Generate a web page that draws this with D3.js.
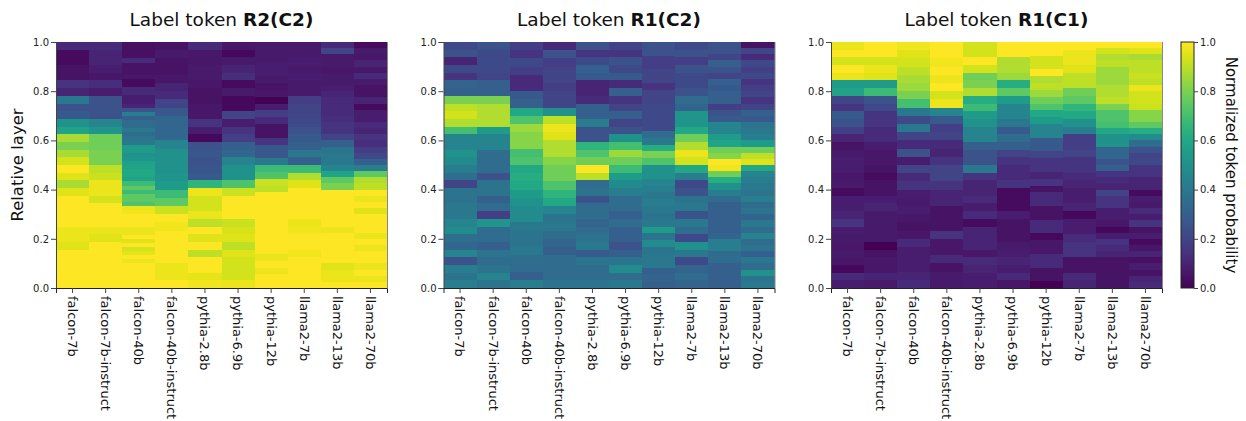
<!DOCTYPE html>
<html>
<head>
<meta charset="utf-8">
<script src="https://cdn.jsdelivr.net/npm/d3@7"></script>
<style>
  body { margin: 0; background: #fff; }
  svg { font-family: "DejaVu Sans", Verdana, sans-serif; }
</style>
</head>
<body>
<div class="chart"></div>
<script>
// models along the x axis of every panel
var models = ["falcon-7b", "falcon-7b-instruct", "falcon-40b", "falcon-40b-instruct",
  "pythia-2.8b", "pythia-6.9b", "pythia-12b", "llama2-7b", "llama2-13b", "llama2-70b"];

var yTicks = [0, 0.2, 0.4, 0.6, 0.8, 1.0];
var colorTicks = [0, 0.2, 0.4, 0.6, 0.8, 1.0];

var titlePlain = ["Label token ", "Label token ", "Label token "];
var titleBold = ["R2(C2)", "R1(C2)", "R1(C1)"];

// normalized token probability per model, listed from the last layer (top) down to the first layer
var probR2C2 = [
  [0.12,0.03,0.03,0.05,0.05,0.15,0.1,0.4,0.25,0.28,0.5,0.58,0.87,0.8,0.87,0.93,1,0.95,0.87,0.95,1,1,1,1,0.97,0.97,0.95,1,1,1,1,1],
  [0.12,0.1,0.1,0.08,0.06,0.13,0.08,0.25,0.25,0.25,0.45,0.52,0.78,0.78,0.8,0.8,0.9,0.92,0.97,0.97,0.93,1,1,1,0.97,0.95,1,1,1,1,1,1],
  [0.04,0.04,0.04,0.04,0.12,0.05,0.05,0.05,0.06,0.03,0.03,0.12,0.12,0.08,0.08,0.1,0.25,0.42,0.3,0.35,0.35,0.4,0.35,0.38,0.4,0.55,0.55,0.5,0.52,0.57,
   0.58,0.6,0.6,0.58,0.68,0.75,0.68,0.75,0.75,0.72,0.97,0.98,1,1,1,0.97,0.97,1,0.95,1,0.93,0.96,1,0.97,1,1,1,1,1,1],
  [0.05,0.07,0.05,0.05,0.06,0.1,0.12,0.2,0.27,0.33,0.33,0.33,0.45,0.5,0.5,0.5,0.52,0.55,0.68,0.75,0.92,1,0.98,1,1,1,1,0.97,0.97,1],
  [0.12,0.06,0.06,0.07,0.07,0.06,0.05,0.05,0.06,0.06,0.15,0.08,0.02,0.25,0.27,0.25,0.26,0.28,0.65,0.97,0.93,0.93,0.97,0.9,1,0.95,1,0.9,1,1,0.96,0.98],
  [0.06,0.02,0.07,0.1,0.13,0.03,0.07,0.02,0.02,0.2,0.08,0.15,0.18,0.3,0.33,0.45,0.5,0.5,0.72,0.92,1,1,1,0.92,0.94,0.95,0.9,0.95,0.93,0.93,0.93,0.97],
  [0.07,0.07,0.07,0.08,0.08,0.07,0.05,0.06,0.0,0.08,0.18,0.12,0.05,0.05,0.15,0.27,0.27,0.4,0.68,0.72,0.92,0.9,1,1,1,1,1,1,1,1,1,0.97,1,0.97,1,1],
  [0.07,0.07,0.08,0.07,0.08,0.07,0.07,0.18,0.2,0.2,0.22,0.25,0.28,0.3,0.4,0.3,0.68,0.88,0.95,1,1,1,1,0.97,0.98,1,1,0.98,1,1,1,1],
  [0.12,0.2,0.07,0.07,0.06,0.07,0.07,0.08,0.1,0.12,0.12,0.12,0.13,0.15,0.15,0.2,0.3,0.38,0.4,0.4,0.45,0.58,0.75,0.8,1,1,1,1,1,1,0.97,1,1,1,1,1,0.95,0.97,0.97,1],
  [0.03,0.07,0.06,0.1,0.06,0.12,0.07,0.05,0.05,0.1,0.03,0.08,0.08,0.12,0.1,0.15,0.13,0.18,0.22,0.3,0.42,0.75,0.88,0.9,1,0.97,1,0.95,1,1,1,0.97,1,0.97,1,1,0.97,1,0.97,1]
];

var probR1C2 = [
  [0.22,0.25,0.1,0.22,0.15,0.32,0.3,0.8,0.9,0.93,0.88,0.7,0.45,0.45,0.5,0.48,0.42,0.36,0.2,0.38,0.38,0.4,0.4,0.45,0.48,0.36,0.33,0.45,0.25,0.42,0.38,0.42],
  [0.25,0.22,0.22,0.22,0.2,0.3,0.3,0.8,0.88,0.88,0.88,0.55,0.45,0.45,0.35,0.35,0.35,0.25,0.38,0.38,0.3,0.35,0.18,0.52,0.35,0.35,0.3,0.38,0.35,0.38,0.45,0.38],
  [0.18,0.15,0.22,0.18,0.12,0.12,0.28,0.3,0.6,0.72,0.85,0.82,0.82,0.7,0.72,0.6,0.62,0.6,0.55,0.5,0.48,0.48,0.4,0.38,0.38,0.4,0.36,0.35,0.3,0.42],
  [0.12,0.25,0.18,0.2,0.2,0.18,0.2,0.2,0.5,0.9,0.97,0.95,0.88,0.88,0.82,0.78,0.78,0.72,0.65,0.6,0.45,0.38,0.4,0.35,0.32,0.3,0.35,0.35,0.35,0.38],
  [0.25,0.15,0.22,0.3,0.28,0.1,0.1,0.12,0.3,0.3,0.42,0.25,0.25,0.65,0.72,0.78,1,0.9,0.35,0.38,0.25,0.35,0.35,0.32,0.35,0.38,0.4,0.28,0.38,0.35,0.35,0.38],
  [0.2,0.15,0.25,0.22,0.28,0.12,0.3,0.15,0.2,0.3,0.2,0.25,0.5,0.7,0.85,0.78,0.68,0.55,0.48,0.42,0.35,0.35,0.3,0.35,0.3,0.3,0.25,0.3,0.38,0.48,0.35,0.4],
  [0.25,0.25,0.18,0.18,0.2,0.2,0.15,0.2,0.2,0.22,0.22,0.22,0.22,0.35,0.4,0.62,0.8,0.72,0.5,0.5,0.45,0.42,0.4,0.42,0.4,0.38,0.4,0.55,0.38,0.48,0.38,0.4,0.4,0.3,0.32,0.3],
  [0.22,0.25,0.18,0.25,0.22,0.22,0.25,0.35,0.32,0.52,0.52,0.6,0.78,0.88,0.97,0.93,0.6,0.42,0.22,0.25,0.38,0.4,0.25,0.4,0.35,0.22,0.5,0.4,0.22,0.32,0.35,0.32],
  [0.25,0.25,0.2,0.3,0.25,0.2,0.3,0.28,0.3,0.3,0.18,0.25,0.28,0.45,0.45,0.55,0.58,0.78,0.82,1,0.98,0.78,0.62,0.5,0.42,0.35,0.3,0.3,0.3,0.3,0.3,0.32,0.42,0.42,0.35,0.35,0.3,0.3,0.3,0.3],
  [0.05,0.2,0.12,0.22,0.18,0.22,0.15,0.18,0.2,0.15,0.2,0.3,0.28,0.38,0.4,0.42,0.55,0.78,0.9,0.95,0.6,0.45,0.42,0.4,0.38,0.42,0.35,0.38,0.32,0.4,0.35,0.45,0.35,0.38,0.3,0.4,0.35,0.5,0.38,0.4]
];

var probR1C1 = [
  [0.97,1,0.93,1,0.97,0.55,0.58,0.2,0.15,0.28,0.25,0.18,0.1,0.05,0.07,0.08,0.08,0.06,0.07,0.03,0.08,0.08,0.1,0.15,0.08,0.07,0.06,0.07,0.06,0.02,0.12,0.08],
  [1,1,0.93,0.97,0.95,0.55,0.68,0.25,0.22,0.15,0.15,0.12,0.12,0.08,0.06,0.06,0.05,0.03,0.05,0.05,0.08,0.1,0.07,0.07,0.07,0.07,0.0,0.05,0.06,0.06,0.1,0.07],
  [0.98,0.95,0.93,0.9,0.87,0.85,0.8,0.7,0.4,0.22,0.4,0.2,0.12,0.25,0.08,0.2,0.12,0.15,0.08,0.07,0.08,0.06,0.05,0.06,0.12,0.08,0.08,0.08,0.1,0.12],
  [1,1,0.98,1,0.97,1,0.93,0.97,0.45,0.28,0.18,0.2,0.12,0.1,0.15,0.2,0.2,0.15,0.1,0.1,0.05,0.05,0.05,0.15,0.06,0.06,0.12,0.05,0.07,0.07],
  [0.93,0.93,1,0.93,0.78,0.8,0.88,0.62,0.68,0.55,0.5,0.45,0.45,0.3,0.25,0.25,0.4,0.15,0.1,0.1,0.12,0.08,0.12,0.03,0.1,0.1,0.1,0.06,0.12,0.1,0.08,0.08],
  [1,1,0.88,0.88,0.85,0.62,0.75,0.55,0.45,0.45,0.4,0.28,0.35,0.3,0.2,0.15,0.12,0.12,0.15,0.03,0.03,0.03,0.08,0.05,0.05,0.05,0.07,0.08,0.1,0.08,0.12,0.06],
  [1,1,0.93,0.93,1,0.88,0.9,0.85,0.78,0.72,0.6,0.55,0.45,0.45,0.28,0.28,0.2,0.15,0.15,0.1,0.15,0.05,0.12,0.12,0.05,0.05,0.12,0.12,0.02,0.06,0.06,0.12,0.12,0.05,0.05,0.0],
  [1,0.97,0.97,0.95,0.9,0.9,0.78,0.75,0.65,0.6,0.5,0.42,0.18,0.18,0.2,0.15,0.15,0.12,0.1,0.08,0.08,0.1,0.02,0.08,0.08,0.12,0.15,0.15,0.05,0.05,0.12,0.1],
  [1,0.93,0.88,0.9,0.85,0.85,0.85,0.88,0.88,0.9,0.8,0.72,0.72,0.7,0.6,0.5,0.5,0.33,0.33,0.25,0.3,0.15,0.12,0.1,0.2,0.15,0.15,0.08,0.08,0.06,0.02,0.08,0.15,0.12,0.1,0.05,0.05,0.05,0.05,0.05],
  [1,0.95,0.87,0.9,0.9,0.92,0.9,0.97,0.93,0.93,0.92,0.82,0.82,0.75,0.62,0.48,0.35,0.25,0.2,0.22,0.15,0.15,0.1,0.1,0.03,0.08,0.07,0.12,0.08,0.15,0.05,0.08,0.03,0.06,0.1,0.04,0.08,0.05,0.1,0.12]
];

var panels = [probR2C2, probR1C2, probR1C1];

var svgWidth = 1246, svgHeight = 421;
var margin = { top: 42, left: 56 };
var plotW = 331, plotH = 246, panelStep = 387.5;

var svg = d3.select(".chart").append("svg")
  .attr("width", svgWidth)
  .attr("height", svgHeight);

var color = d3.scaleSequential(d3.interpolateViridis).domain([0, 1]);

var x = d3.scaleBand().domain(models).range([0, plotW]);
var y = d3.scaleLinear().domain([0, 1]).range([plotH, 0]);

panels.forEach(function (panel, p) {
  var g = svg.append("g")
    .attr("transform", `translate(${margin.left + p * panelStep}, ${margin.top})`);

  // flatten into one cell per (model, layer)
  var cells = [];
  panel.forEach(function (vals, j) {
    var n = vals.length;
    vals.forEach(function (v, k) {
      cells.push({ model: models[j], hi: 1 - k / n, lo: 1 - (k + 1) / n, v: v });
    });
  });

  g.append("g").selectAll("rect")
    .data(cells)
    .enter()
    .append("rect")
    .attr("x", d => x(d.model))
    .attr("width", x.bandwidth())
    .attr("y", d => y(d.hi))
    .attr("height", d => y(d.lo) - y(d.hi))
    .attr("fill", d => color(d.v))
    .attr("shape-rendering", "crispEdges");

  // thin right border
  g.append("line")
    .attr("x1", plotW + 0.5).attr("x2", plotW + 0.5)
    .attr("y1", 0).attr("y2", plotH)
    .attr("stroke", "#888");

  var yAxis = g.append("g")
    .call(d3.axisLeft(y).tickValues(yTicks).tickFormat(d3.format(".1f")).tickSize(5).tickPadding(2));
  yAxis.selectAll("text").attr("font-size", 10).attr("fill", "#222").attr("font-family", "DejaVu Sans");
  yAxis.selectAll("line,path").attr("stroke", "#444");

  var xAxis = g.append("g")
    .attr("transform", `translate(0, ${plotH})`)
    .call(d3.axisBottom(x).tickSize(5).tickPadding(3));
  xAxis.select(".domain").attr("stroke", "#222");
  xAxis.selectAll("line").attr("stroke", "#444");
  xAxis.selectAll("text")
    .attr("font-size", 13)
    .attr("fill", "#111")
    .attr("font-family", "DejaVu Sans")
    .attr("transform", "rotate(90)")
    .attr("text-anchor", "start")
    .attr("dy", "0.35em")
    .attr("x", 8)
    .attr("y", 0);

  // title
  var title = g.append("text")
    .attr("x", plotW / 2)
    .attr("y", -16)
    .attr("text-anchor", "middle")
    .attr("font-size", 18.5)
    .attr("fill", "#111");
  title.append("tspan").text(titlePlain[p]);
  title.append("tspan").attr("font-weight", "bold").text(titleBold[p]);
});

// y axis title
svg.append("text")
  .attr("transform", `translate(23, ${margin.top + plotH / 2}) rotate(-90)`)
  .attr("text-anchor", "middle")
  .attr("font-size", 16.5)
  .attr("fill", "#111")
  .text("Relative layer");

// colour bar
var cbX = 1181, cbW = 13;
var defs = svg.append("defs");
var grad = defs.append("linearGradient")
  .attr("id", "viridisGrad")
  .attr("x1", "0%").attr("x2", "0%").attr("y1", "100%").attr("y2", "0%");
d3.range(0, 1.0001, 0.05).forEach(function (t) {
  grad.append("stop").attr("offset", (t * 100) + "%").attr("stop-color", color(t));
});

var cb = svg.append("g").attr("transform", `translate(${cbX}, ${margin.top})`);
cb.append("rect")
  .attr("width", cbW)
  .attr("height", plotH)
  .attr("fill", "url(#viridisGrad)")
  .attr("stroke", "#222")
  .attr("stroke-width", 1);

var cbScale = d3.scaleLinear().domain([0, 1]).range([plotH, 0]);
var cbAxis = cb.append("g")
  .attr("transform", `translate(${cbW}, 0)`)
  .call(d3.axisRight(cbScale).tickValues(colorTicks).tickFormat(d3.format(".1f")).tickSize(4).tickPadding(2));
cbAxis.select(".domain").remove();
cbAxis.selectAll("text").attr("font-size", 10).attr("fill", "#222").attr("font-family", "DejaVu Sans");
cbAxis.selectAll("line").attr("stroke", "#444");

svg.append("text")
  .attr("transform", `translate(1226, ${margin.top + plotH / 2}) rotate(90)`)
  .attr("text-anchor", "middle")
  .attr("font-size", 15)
  .attr("fill", "#111")
  .text("Normalized token probability");
</script>
</body>
</html>
